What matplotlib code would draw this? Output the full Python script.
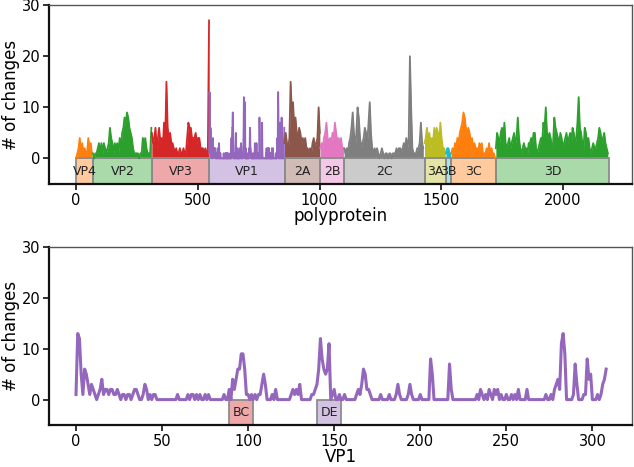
import numpy as np
import matplotlib
matplotlib.use("Agg")
import matplotlib.pyplot as plt
import matplotlib.patches as patches

# regions of the polyprotein: name, start, end, colour
region_names = ["VP4", "VP2", "VP3", "VP1", "2A", "2B", "2C", "3A", "3B", "3C", "3D"]
region_starts = [0, 69, 311, 547, 856, 1003, 1101, 1431, 1519, 1541, 1724]
region_ends = [69, 311, 547, 856, 1003, 1101, 1431, 1519, 1541, 1724, 2188]
region_colors = ["C1", "C2", "C3", "C4", "C5", "C6", "C7", "C8", "C9", "C1", "C2"]

# changes per site, sampled every 5 residues (VP1 is per residue)
step = 5
vp4 = [0, 1, 2, 4, 1, 3, 1, 2, 1, 1, 4, 2, 3, 1]
vp2 = [1, 0, 1, 1, 2, 3, 1, 3, 1, 3, 2, 1, 2, 3, 6, 4, 3, 1, 3, 2, 3, 1, 4, 2, 5,
       6, 8, 7, 9, 8, 6, 5, 4, 2, 1, 1, 1, 1, 0, 1, 1, 4, 3, 4, 2, 1, 1, 1, 6]
vp3 = [5, 3, 4, 6, 2, 4, 6, 3, 4, 2, 7, 4, 15, 6, 4, 5, 3, 3, 2, 1, 2, 1, 1, 2,
       1, 1, 2, 1, 1, 4, 7, 6, 6, 4, 4, 4, 5, 3, 4, 4, 2, 2, 2, 1, 2, 1, 1, 27]
vp1 = [1, 13, 12, 5, 1, 6, 5, 3, 1, 3,
       2, 1, 0, 1, 2, 4, 1, 2, 2, 1,
       2, 2, 1, 1, 2, 1, 0, 1, 1, 0,
       1, 1, 0, 1, 2, 2, 1, 0, 0, 1,
       3, 2, 0, 1, 0, 1, 1, 0, 0, 0,
       0, 0, 0, 0, 0, 0, 0, 0, 0, 1,
       0, 0, 0, 0, 0, 1, 0, 1, 1, 0,
       1, 0, 1, 0, 0, 1, 0, 1, 0, 0,
       0, 0, 0, 0, 0, 0, 1, 0, 0, 2,
       0, 4, 2, 4, 6, 6, 9, 9, 6, 1,
       1, 0, 1, 0, 1, 0, 1, 1, 3, 5,
       3, 0, 0, 0, 1, 0, 2, 0, 0, 0,
       0, 0, 0, 0, 0, 1, 2, 1, 2, 1,
       3, 0, 0, 0, 0, 0, 0, 1, 1, 2,
       3, 6, 12, 8, 6, 5, 6, 11, 0, 1,
       2, 0, 0, 1, 0, 0, 1, 0, 0, 0,
       0, 0, 0, 1, 2, 1, 3, 6, 5, 2,
       2, 1, 0, 0, 0, 0, 0, 1, 0, 0,
       0, 0, 1, 0, 0, 0, 1, 3, 1, 0,
       0, 0, 0, 1, 3, 1, 0, 0, 0, 0,
       1, 0, 0, 0, 0, 0, 8, 5, 0, 0,
       0, 0, 0, 0, 0, 0, 0, 7, 2, 0,
       0, 0, 0, 0, 0, 0, 0, 0, 0, 0,
       0, 0, 0, 1, 0, 2, 1, 0, 1, 0,
       2, 1, 0, 2, 1, 2, 0, 1, 0, 0,
       1, 0, 0, 1, 0, 1, 0, 2, 0, 0,
       0, 0, 2, 0, 0, 0, 0, 0, 0, 0,
       0, 0, 0, 1, 0, 0, 1, 0, 2, 3,
       4, 2, 11, 13, 9, 0, 0, 0, 0, 1,
       7, 3, 0, 0, 0, 1, 1, 8, 4, 5,
       0, 0, 0, 1, 0, 1, 3, 4, 6]
p2a = [3, 5, 3, 2, 4, 15, 9, 11, 6, 8, 5, 4, 6, 5, 3, 4, 3, 4, 2, 2,
       1, 2, 1, 3, 4, 2, 3, 4, 10, 5]
p2b = [2, 3, 2, 4, 5, 7, 4, 3, 4, 3, 5, 4, 7, 5, 3, 4, 3, 4, 2, 2]
p2c = [2, 1, 2, 1, 3, 4, 6, 9, 5, 2, 5, 10, 8, 4, 2, 3, 4, 6, 5, 3,
       7, 11, 5, 2, 1, 2, 1, 2, 1, 0, 1, 2, 1, 0, 1, 1, 0, 1, 1, 0,
       1, 1, 1, 2, 1, 2, 2, 1, 2, 3, 2, 4, 2, 4, 20, 10, 2, 1, 1, 1,
       2, 2, 3, 7, 3, 2]
p3a = [3, 4, 6, 3, 5, 2, 4, 3, 6, 4, 6, 5, 3, 7, 4, 2, 2, 1]
p3b = [1, 2, 2, 1, 1]
p3c = [1, 2, 1, 3, 2, 4, 3, 5, 6, 7, 9, 8, 6, 5, 6, 5, 3, 4, 2, 3,
       2, 2, 1, 3, 2, 3, 1, 1, 1, 2, 1, 3, 1, 2, 1, 1, 0]
p3d = [2, 5, 4, 3, 5, 6, 4, 7, 3, 2, 3, 4, 2, 3, 4, 5, 3, 4, 8, 4,
       2, 1, 2, 3, 2, 2, 1, 3, 3, 4, 3, 5, 5, 2, 1, 2, 3, 4, 3, 7,
       6, 10, 5, 4, 5, 4, 2, 3, 8, 6, 5, 4, 3, 5, 4, 2, 3, 4, 5, 3,
       4, 5, 3, 6, 5, 3, 4, 7, 12, 6, 5, 3, 2, 6, 5, 3, 4, 2, 1, 2,
       3, 2, 2, 3, 4, 6, 5, 3, 4, 5, 3, 2, 1]
region_values = [vp4, vp2, vp3, vp1, p2a, p2b, p2c, p3a, p3b, p3c, p3d]

# VP1 loops
loop_names = ["BC", "DE"]
loop_starts = [89, 140]
loop_ends = [103, 154]
loop_colors = ["C3", "C4"]

plt.rcParams['font.family'] = 'DejaVu Sans'
fig = plt.figure(figsize=(6.34, 4.67), dpi=100)
ax1 = fig.add_axes([0.0778, 0.606, 0.919, 0.383])
ax2 = fig.add_axes([0.0778, 0.0899, 0.919, 0.381])


def add_box(ax, s, e, c, name):
    ax.add_patch(patches.Rectangle((s, -5), e - s, 5, facecolor=c, alpha=0.4,
                                   edgecolor='none'))
    ax.add_patch(patches.Rectangle((s, -5), e - s, 5, facecolor='none',
                                   edgecolor='#8c8c8c', lw=1.3))
    ax.text((s + e) / 2, -2.6, name, ha='center', va='center', fontsize=9,
            color='#222222')


for name, s, e, c, vals in zip(region_names, region_starts, region_ends, region_colors, region_values):
    if name == "VP1":
        xs = s + np.arange(len(vals))
    else:
        xs = s + step * np.arange(len(vals))
    ax1.fill_between(xs, 0, vals, color=c, lw=0)
    ax1.plot(xs, vals, color=c, lw=1.3)
    add_box(ax1, s, e, c, name)

ax2.plot(np.arange(len(vp1)), vp1, color='C4', lw=2.2)
for name, s, e, c in zip(loop_names, loop_starts, loop_ends, loop_colors):
    add_box(ax2, s, e, c, name)

ax1.set_xlim(-110, 2283)
ax2.set_xlim(-15.5, 323)
for ax, lab in [(ax1, "polyprotein"), (ax2, "VP1")]:
    ax.set_ylim(-5, 30)
    ax.set_yticks([0, 10, 20, 30])
    ax.set_ylabel("# of changes", fontsize=12, labelpad=1)
    ax.set_xlabel(lab, fontsize=12, labelpad=-0.5)
    ax.tick_params(labelsize=10.5, width=1.3, length=4, pad=2.5, color='#222222')
    for sp in ['left', 'bottom']:
        ax.spines[sp].set_linewidth(1.6)
        ax.spines[sp].set_color('#111111')
    for sp in ['top', 'right']:
        ax.spines[sp].set_linewidth(1.0)
        ax.spines[sp].set_color('#555555')
ax1.set_xticks([0, 500, 1000, 1500, 2000])
ax2.set_xticks([0, 50, 100, 150, 200, 250, 300])

fig.savefig("out.png", dpi=100)
